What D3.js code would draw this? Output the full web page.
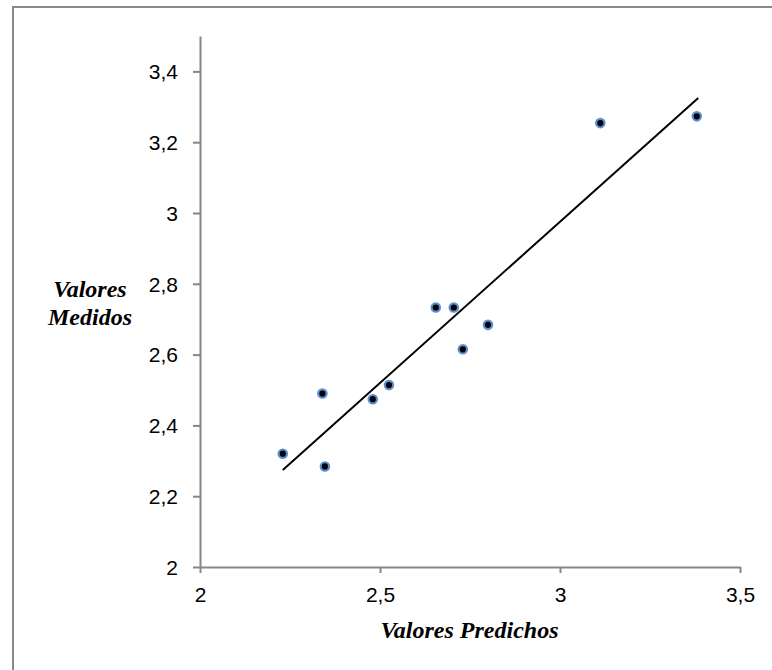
<!DOCTYPE html>
<html>
<head>
<meta charset="utf-8">
<script src="https://cdn.jsdelivr.net/npm/d3@7"></script>
<style>
  body { margin: 0; background: #fff; }
  .axis-label { font-family: "Liberation Serif", "Times New Roman", serif; font-weight: bold; font-style: italic; font-size: 24px; }
</style>
</head>
<body>
<div id="chart"></div>
<script>
// DATA
const predichos = [2.23, 2.34, 2.347, 2.48, 2.525, 2.655, 2.705, 2.73, 2.80, 3.112, 3.38];
const medidos   = [2.32, 2.49, 2.284, 2.474, 2.514, 2.733, 2.733, 2.615, 2.684, 3.254, 3.273];
const trendX = [2.23, 3.384];
const trendY = [2.274, 3.325];
const xTicks = [2, 2.5, 3, 3.5];
const yTicks = [2, 2.2, 2.4, 2.6, 2.8, 3, 3.2, 3.4];

const W = 772, H = 670;
const margin = { top: 36, right: 32, bottom: 103, left: 200 };
const width = 740 - margin.left;   // x axis runs 200 -> 740
const height = 567 - margin.top;   // y axis runs 36 -> 567

const svgRoot = d3.select("#chart")
    .append("svg")
    .attr("width", W)
    .attr("height", H);

// outer chart frame (right/bottom edges fall outside the picture)
svgRoot.append("rect")
    .attr("x", 13).attr("y", 7)
    .attr("width", W).attr("height", H)
    .attr("fill", "none")
    .attr("stroke", "#898989")
    .attr("stroke-width", 2);

const svg = svgRoot.append("g")
    .attr("transform", `translate(${margin.left},${margin.top})`);

const x = d3.scaleLinear().domain([2, 3.5]).range([0, width]);
const y = d3.scaleLinear().domain([2, 3.5]).range([height, 0]);

const fmt = d => d3.format("")(d).replace(".", ",");

// x axis
const gx = svg.append("g")
    .attr("transform", `translate(0,${height})`)
    .call(d3.axisBottom(x).tickValues(xTicks).tickSize(6).tickSizeOuter(0).tickFormat(fmt));

// y axis
const gy = svg.append("g")
    .call(d3.axisLeft(y).tickValues(yTicks).tickSize(7).tickSizeOuter(0).tickFormat(fmt));

[gx, gy].forEach(g => {
    g.attr("font-size", 21).attr("font-family", "Liberation Sans, Arial, sans-serif");
    g.select(".domain").attr("stroke", "#868686").attr("stroke-width", 2);
    g.selectAll(".tick line").attr("stroke", "#868686").attr("stroke-width", 2);
    g.selectAll(".tick text").attr("fill", "#000").attr("font-size", 21);
});
gx.selectAll(".tick text").attr("y", 20).attr("dy", "0.71em");
gy.selectAll(".tick text").attr("x", -22).attr("dy", "0.35em");

// trend line
svg.append("path")
    .datum(trendX.map((v, i) => ({ x: v, y: trendY[i] })))
    .attr("d", d3.line().x(d => x(d.x)).y(d => y(d.y)))
    .attr("stroke", "#000")
    .attr("stroke-width", 2)
    .attr("fill", "none");

// points
const pts = predichos.map((v, i) => ({ x: v, y: medidos[i] }));
svg.selectAll(".ring")
    .data(pts)
    .enter()
    .append("circle")
    .attr("class", "ring")
    .attr("cx", d => x(d.x))
    .attr("cy", d => y(d.y))
    .attr("r", 4.2)
    .attr("fill", "#000")
    .attr("stroke", "#5b8fd0")
    .attr("stroke-width", 2.2);

// axis labels
svg.append("text")
    .attr("class", "axis-label")
    .attr("text-anchor", "middle")
    .attr("x", 469.5 - margin.left)
    .attr("y", 638 - margin.top)
    .text("Valores Predichos");

const yl = svg.append("text")
    .attr("class", "axis-label")
    .attr("text-anchor", "middle");
yl.append("tspan").attr("x", 90 - margin.left).attr("y", 297 - margin.top).text("Valores");
yl.append("tspan").attr("x", 90 - margin.left).attr("y", 325 - margin.top).text("Medidos");
</script>
</body>
</html>
